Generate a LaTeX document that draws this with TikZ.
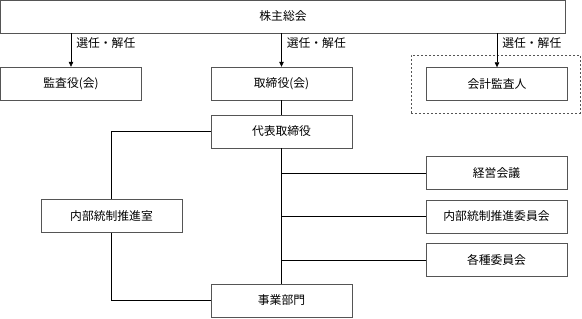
\documentclass[tikz,border=0pt]{standalone}
\usepackage{fontspec}
\setmainfont{Noto Sans CJK JP}
\usepackage{xcolor}
\usetikzlibrary{arrows.meta}
\definecolor{boxgray}{HTML}{555555}

\begin{document}
\begin{tikzpicture}[x=1pt, y=-1pt,
    orgbox/.style={draw=boxgray, fill=white, minimum width=141pt,
      minimum height=33pt, inner sep=0pt, font=\fontsize{11.8}{13}\selectfont},
    link/.style={draw=black, line width=0.6pt},
    appoint/.style={link, -{Triangle[length=5pt, width=4.5pt]}},
    appointlabel/.style={anchor=west, inner sep=0pt, xshift=5pt,
      font=\fontsize{11.8}{13}\selectfont}]
  \useasboundingbox (0,0) rectangle (582,319);

  % top row
  \node[orgbox, minimum width=565pt] (meeting) at (283,16.5) {株主総会};

  % audit frame round the accounting auditor
  \node[draw=boxgray, dash pattern=on 2pt off 2pt, minimum width=169pt,
        minimum height=58pt, inner sep=0pt] (auditframe) at (495.5,84) {};

  \node[orgbox] (auditors) at (71,83.5) {監査役(会)};
  \node[orgbox] (board) at (281.5,83.5) {取締役(会)};
  \node[orgbox] (accountant) at (497,84) {会計監査人};

  \node[orgbox] (president) at (281.5,131.5) {代表取締役};
  \node[orgbox] (icoffice) at (111.5,216) {内部統制推進室};

  \node[orgbox] (mgmtmeeting) at (496.5,173) {経営会議};
  \node[orgbox] (iccommittee) at (496.5,216.5) {内部統制推進委員会};
  \node[orgbox] (committees) at (496.5,260) {各種委員会};

  \node[orgbox] (business) at (281.5,300.5) {事業部門};

  % appointment arrows
  \foreach \target in {auditors, board, accountant}
    \draw[appoint] (meeting.south -| \target.north) -- (\target.north)
      node[appointlabel, pos=0.3] {選任・解任};

  % reporting lines
  \draw[link] (board.south) -- (president.north);
  \draw[link] (president.south) -- (business.north);
  \draw[link] (president.west) -| (icoffice.north);
  \draw[link] (icoffice.south) |- (business.west);
  \foreach \branch in {mgmtmeeting, iccommittee, committees}
    \draw[link] (\branch.west -| president.south) -- (\branch.west);
\end{tikzpicture}
\end{document}
